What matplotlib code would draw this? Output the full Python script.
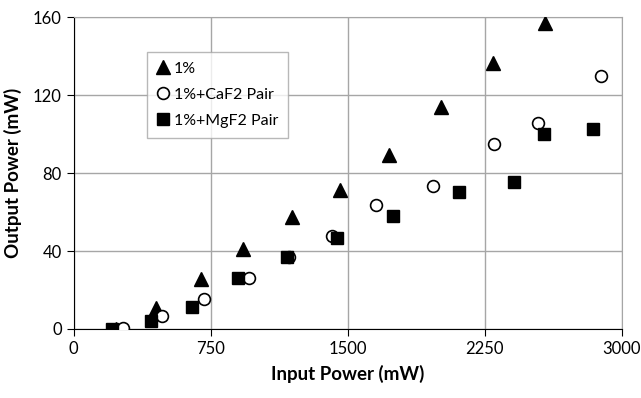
import matplotlib
matplotlib.use("Agg")
import matplotlib.pyplot as plt

# 1% doped
x_1 = [235, 452, 698, 929, 1194, 1459, 1723, 2011, 2292, 2581]
y_1 = [0, 10.6, 25.5, 41, 57.3, 71.3, 89.2, 114, 136.3, 157]
# 1% + CaF2 pair
x_caf2 = [269, 486, 714, 959, 1180, 1415, 1656, 1966, 2298, 2539, 2887]
y_caf2 = [0.3, 6.8, 15.4, 26.3, 37, 47.7, 63.6, 73.5, 95.2, 106, 130]
# 1% + MgF2 pair
x_mgf2 = [209, 422, 650, 899, 1167, 1440, 1750, 2108, 2409, 2575, 2839]
y_mgf2 = [0, 4.3, 11.1, 26.3, 37.1, 46.8, 58.1, 70.1, 75.5, 100.3, 102.9]

xticks = [0, 750, 1500, 2250, 3000]
yticks = [0, 40, 80, 120, 160]

plt.rcParams['font.family'] = ['Lato', 'DejaVu Sans']

fig = plt.figure(figsize=(6.41, 3.98), dpi=100)
ax = fig.add_axes([0.1147, 0.1734, 0.8557, 0.7831])

ax.plot(x_1, y_1, '^', color='black', markersize=10, label='1%', zorder=3)
ax.plot(x_caf2, y_caf2, 'o', markerfacecolor='white', markeredgecolor='black',
        markeredgewidth=1.2, markersize=8.5, label='1%+CaF2 Pair', zorder=3)
ax.plot(x_mgf2, y_mgf2, 's', color='black', markersize=8.5,
        label='1%+MgF2 Pair', zorder=4)

ax.set_xlim(0, 3000)
ax.set_ylim(0, 160)
ax.set_xticks(xticks)
ax.set_yticks(yticks)
ax.grid(True, color='#a6a6a6', linewidth=1)
ax.set_axisbelow(True)
for s in ['top', 'right']:
    ax.spines[s].set_color('#a6a6a6')
for s in ['left', 'bottom']:
    ax.spines[s].set_color('black')
ax.tick_params(direction='out', length=5, labelsize=12, colors='black')

ax.set_xlabel('Input Power (mW)', fontsize=13.5, fontweight='bold', labelpad=6)
ax.set_ylabel('Output Power (mW)', fontsize=13.5, fontweight='bold', labelpad=8)

leg = ax.legend(loc='upper left', bbox_to_anchor=(0.134, 0.889), fontsize=11.5,
                frameon=True, fancybox=False, edgecolor='#a6a6a6',
                handlelength=0.8, handletextpad=0.3, borderpad=0.6,
                labelspacing=0.75, borderaxespad=0)
leg.get_frame().set_linewidth(1)

fig.savefig('out.png', dpi=100)
